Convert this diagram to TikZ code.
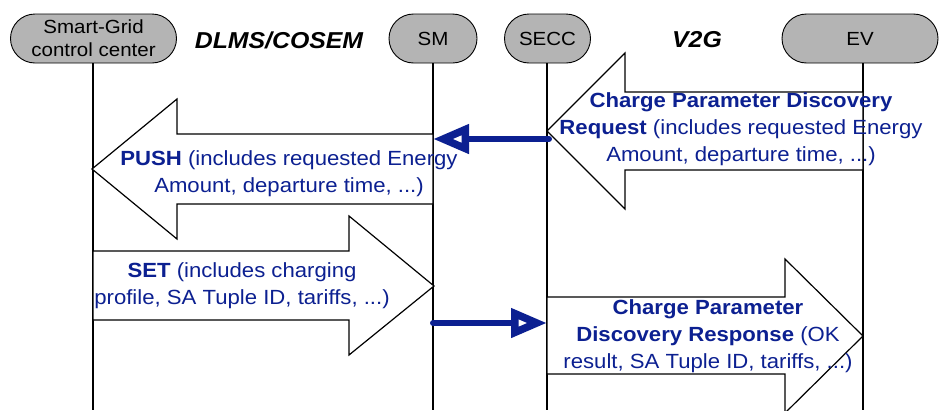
\documentclass[tikz,border=0pt]{standalone}
\usepackage{fontspec}
\setmainfont[FakeStretch=1.08]{Liberation Sans}
\usetikzlibrary{arrows.meta}
\definecolor{msgblue}{RGB}{12,32,145}
\definecolor{pillgray}{RGB}{180,180,180}

\begin{document}
\begin{tikzpicture}[x=1pt,y=-1pt,
  pill/.style={draw=black, line width=0.9pt, fill=pillgray, rounded corners=24.5pt,
    minimum height=49pt, inner sep=0pt, align=center, font=\fontsize{19}{23}\selectfont},
  lifeline/.style={line width=1.2pt},
  blockarrow/.style={draw=black, fill=white, line width=1.2pt, line join=miter},
  msgtext/.style={text=msgblue, align=center, inner sep=0pt, font=\fontsize{20.5}{27}\selectfont},
  proto/.style={inner sep=0pt, font=\fontsize{23}{27}\selectfont\bfseries\itshape},
  signal/.style={draw=msgblue, line width=6pt, line cap=round,
    -{Triangle[open, length=36pt, width=28pt, line width=7.5pt, fill=white]}}
]
\useasboundingbox (0,0) rectangle (939,410);
\clip (0,0) rectangle (939,410);

% participants
\node[pill, minimum width=166pt] (sg)   at (93.5,38.5) {Smart-Grid\\control center};
\node[pill, minimum width=88pt]  (sm)   at (433,38.5)  {SM};
\node[pill, minimum width=86pt]  (secc) at (547.5,38.5) {SECC};
\node[pill, minimum width=156pt] (ev)   at (860,38.5)  {EV};

% protocol labels
\node[proto] (dlms) at (279,40) {DLMS/COSEM};
\node[proto] (vtg)  at (697,40) {V2G};

% lifelines
\coordinate (sgtop)   at (93,63);
\coordinate (smtop)   at (433,63);
\coordinate (secctop) at (547,63);
\coordinate (evtop)   at (863,63);
\draw[lifeline] (sgtop)   -- (sgtop |- 0,410);
\draw[lifeline] (smtop)   -- (smtop |- 0,410);
\draw[lifeline] (secctop) -- (secctop |- 0,410);
\draw[lifeline] (evtop)   -- (evtop |- 0,410);

% block arrows for the exchanged messages
% EV -> SECC : Charge Parameter Discovery Request
\draw[blockarrow] (863,92) -- (625,92) -- (625,53) -- (547,131) -- (625,209)
  -- (625,170) -- (863,170) -- cycle;
% SM -> control center : PUSH
\draw[blockarrow] (433,134) -- (177,134) -- (177,99) -- (92,169) -- (177,239)
  -- (177,204) -- (433,204) -- cycle;
% control center -> SM : SET
\draw[blockarrow] (93,251) -- (349,251) -- (349,216) -- (434,286) -- (349,355)
  -- (349,320) -- (93,320) -- cycle;
% SECC -> EV : Charge Parameter Discovery Response
\draw[blockarrow] (547,297) -- (785,297) -- (785,259) -- (863,336) -- (785,413)
  -- (785,374) -- (547,374) -- cycle;

% forwarding between SECC and SM
\coordinate (fwdA) at ([xshift=2pt]secctop |- 0,139);
\coordinate (fwdB) at (smtop |- 0,139);
\draw[signal] (fwdA) -- (fwdB);
\coordinate (fwdC) at (smtop |- 0,323);
\coordinate (fwdD) at (secctop |- 0,323);
\draw[signal] (fwdC) -- (fwdD);

% message texts
\node[msgtext] (reqtxt) at (741,129)
  {\textbf{Charge Parameter Discovery}\\\textbf{Request} (includes requested Energy\\Amount, departure time, ...)};
\node[msgtext] (pushtxt) at (289,174)
  {\textbf{PUSH} (includes requested Energy\\Amount, departure time, ...)};
\node[msgtext] (settxt) at (242,286)
  {\textbf{SET} (includes charging\\profile, SA Tuple ID, tariffs, ...)};
\node[msgtext] (restxt) at (708,336)
  {\textbf{Charge Parameter}\\\textbf{Discovery Response} (OK\\result, SA Tuple ID, tariffs, ...)};
\end{tikzpicture}
\end{document}
